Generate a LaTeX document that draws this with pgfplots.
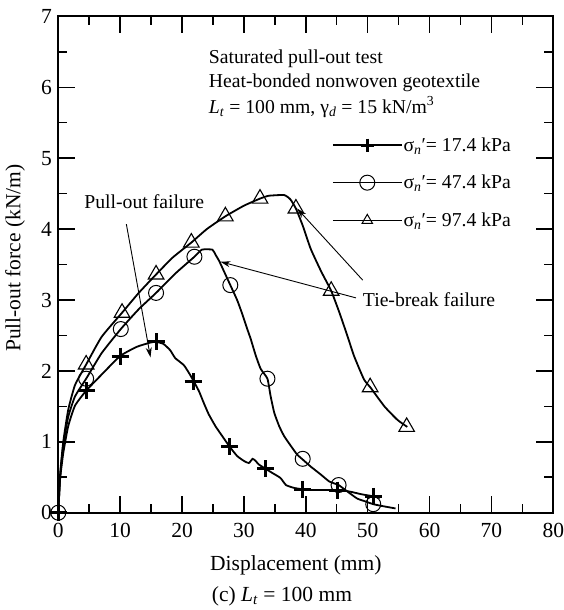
\documentclass[border=0pt]{standalone}
\usepackage{fontspec}
\setmainfont{Liberation Serif}
\usepackage{pgfplots}
\pgfplotsset{compat=1.18}
\usetikzlibrary{arrows.meta}
\newcommand\lblfont{\fontsize{21.5}{25}\selectfont}
\newcommand\annfont{\fontsize{19.7}{23}\selectfont}
\begin{document}
\begin{tikzpicture}
\begin{axis}[
  at={(58.3pt,97.3pt)}, anchor=south west,
  scale only axis, width=495pt, height=496.3pt,
  xmin=0, xmax=80, ymin=0, ymax=7,
  xtick={0,10,...,80}, ytick={0,1,...,7},
  minor xtick={5,15,...,75}, minor ytick={0.5,1.5,...,6.5},
  tick align=inside,
  every tick/.style={line width=1.5pt, black},
  axis line style={line width=1.8pt, black},
  tick label style={font=\lblfont},
  /pgf/number format/assume math mode=true,
  xticklabel style={yshift=-7pt},
  yticklabel style={xshift=-3pt},
  xlabel={Displacement (mm)}, ylabel={Pull-out force (kN/m)},
  label style={font=\lblfont},
  xlabel style={at={(axis description cs:0.48,-0.1054)}, anchor=center},
  ylabel style={at={(axis description cs:-0.0875,0.513)}, anchor=center},
  clip=false,
  legend cell align=left,
  legend style={draw=none, fill=none, at={(axis cs:44.2,5.31)}, anchor=north west,
    font=\annfont, row sep=20.5pt, inner sep=0pt,
    nodes={inner sep=1pt}},
  legend image code/.code={\draw[mark repeat=2, mark phase=2, #1] plot coordinates {(0pt,0pt) (34.5pt,0pt) (69pt,0pt)};},
]
% legend
\addlegendimage{black, line width=1.6pt, mark=+, mark size=6.5pt, mark options={line width=3pt}}
\addlegendentry{σ\textsubscript{\textit{n}}′= 17.4 kPa}
\addlegendimage{black, line width=1.6pt, mark=o, mark size=7.5pt, mark options={line width=1pt, fill=white}}
\addlegendentry{σ\textsubscript{\textit{n}}′= 47.4 kPa}
\addlegendimage{black, line width=1.6pt, mark=triangle, mark size=6pt, mark options={line width=1pt, fill=white}}
\addlegendentry{σ\textsubscript{\textit{n}}′= 97.4 kPa}

% long inward tick marks on all four sides
\pgfplotsinvokeforeach{10,20,30,40,50,60,70}{
  \draw[line width=1.5pt] (axis cs:#1,0) -- ([yshift=17pt]axis cs:#1,0);
  \draw[line width=1.5pt] (axis cs:#1,7) -- ([yshift=-17pt]axis cs:#1,7);
}
\pgfplotsinvokeforeach{5,15,25,35,45,55,65,75}{
  \draw[line width=1.5pt] (axis cs:#1,0) -- ([yshift=9pt]axis cs:#1,0);
  \draw[line width=1.5pt] (axis cs:#1,7) -- ([yshift=-9pt]axis cs:#1,7);
}
\pgfplotsinvokeforeach{1,2,3,4,5,6}{
  \draw[line width=1.5pt] (axis cs:0,#1) -- ([xshift=17pt]axis cs:0,#1);
  \draw[line width=1.5pt] (axis cs:80,#1) -- ([xshift=-17pt]axis cs:80,#1);
}
\pgfplotsinvokeforeach{0.5,1.5,2.5,3.5,4.5,5.5,6.5}{
  \draw[line width=1.5pt] (axis cs:0,#1) -- ([xshift=9pt]axis cs:0,#1);
  \draw[line width=1.5pt] (axis cs:80,#1) -- ([xshift=-9pt]axis cs:80,#1);
}

% 17.4 kPa curve
\addplot[black, line width=1.8pt, smooth, tension=0.3, forget plot] coordinates {
(0,0)(0.27,0.46)(0.8,0.84)(1.6,1.22)(2.7,1.51)(4.5,1.72)(6.8,1.93)(10,2.21)(12.7,2.34)(14.9,2.40)(15.8,2.41)(17.0,2.38)(18.1,2.29)(18.9,2.18)(20.3,2.08)(21.4,1.93)(22.7,1.72)(23.5,1.55)(24.3,1.39)(25.4,1.22)(26.5,1.08)(27.7,0.93)(28.9,0.80)(30.0,0.73)(30.8,0.70)(31.4,0.76)(31.9,0.73)(32.4,0.68)(33.5,0.62)(34.6,0.56)(35.9,0.49)(36.8,0.39)(38.1,0.35)(39.5,0.33)(41,0.32)(43,0.32)(45.1,0.32)(47,0.30)(49,0.26)(51,0.23)(52,0.21)};
\addplot[black, only marks, mark=+, mark size=8.5pt, mark options={line width=3pt}, forget plot] coordinates {
(0,0)(4.5,1.72)(10.0,2.21)(15.8,2.41)(21.8,1.85)(27.7,0.93)(33.5,0.62)(39.5,0.33)(45.1,0.32)(51.0,0.23)};

% 47.4 kPa curve
\addplot[black, line width=1.8pt, smooth, tension=0.3, forget plot] coordinates {
(0,0)(0.3,0.5)(0.8,0.95)(1.6,1.35)(2.7,1.64)(4.5,1.89)(7,2.25)(10.1,2.59)(13,2.87)(15.8,3.10)(19,3.38)(22,3.61)(23.2,3.71)(24.9,3.71)(25.4,3.64)(26,3.55)(26.8,3.40)(27.8,3.21)(28.9,3.0)(29.7,2.81)(30.5,2.6)(31.1,2.45)(31.9,2.22)(32.7,2.03)(33.8,1.89)(34.3,1.65)(34.9,1.41)(35.7,1.22)(36.5,1.08)(37.6,0.94)(38.6,0.82)(39.5,0.75)(40.8,0.65)(42.4,0.54)(43.8,0.44)(45.3,0.39)(46.7,0.30)(48.3,0.20)(49.6,0.16)(50.9,0.12)(52.6,0.09)(54.5,0.06)};
\addplot[black, only marks, mark=o, mark size=7.5pt, mark options={line width=1pt}, forget plot] coordinates {
(0,0)(4.5,1.89)(10.1,2.59)(15.8,3.10)(22.0,3.61)(27.8,3.21)(33.8,1.89)(39.5,0.76)(45.3,0.39)(50.9,0.12)};

% 97.4 kPa curve
\addplot[black, line width=1.8pt, smooth, tension=0.3, forget plot] coordinates {
(0,0)(0.3,0.55)(0.8,1.0)(1.6,1.45)(2.7,1.80)(4.5,2.09)(7,2.48)(10.3,2.82)(13,3.1)(15.8,3.36)(18.5,3.6)(21.5,3.81)(24,4.0)(27,4.18)(30,4.33)(32.6,4.43)(34,4.47)(36.5,4.48)(37.5,4.42)(38.4,4.29)(39.5,4.05)(40.8,3.72)(42.5,3.40)(44.1,3.13)(45.4,2.83)(46.7,2.50)(47.8,2.21)(49.4,1.88)(50.5,1.76)(52.7,1.50)(54.8,1.31)(56.4,1.21)};
\addplot[black, only marks, mark=triangle, mark size=9pt, mark options={line width=1.1pt}, forget plot] coordinates {
(4.5,2.09)(10.3,2.82)(15.8,3.36)(21.5,3.81)(27.0,4.18)(32.6,4.43)(38.4,4.29)(44.1,3.13)(50.4,1.77)(56.3,1.21)};

% annotations
\node[anchor=west, inner sep=0pt, font=\annfont] at (axis cs:24.3,6.40) {Saturated pull-out test};
\node[anchor=west, inner sep=0pt, font=\annfont] at (axis cs:24.3,6.06) {Heat-bonded nonwoven geotextile};
\node[anchor=west, inner sep=0pt, font=\annfont] at (axis cs:24.3,5.72) {\textit{L}\textsubscript{\textit{t}} = 100 mm, γ\textsubscript{\textit{d}} = 15 kN/m\textsuperscript{3}};
\node[inner sep=0pt, font=\annfont] at (axis cs:13.9,4.39) {Pull-out failure};
\node[anchor=west, inner sep=0pt, font=\annfont] at (axis cs:49.2,3.0) {Tie-break failure};
\draw[line width=0.9pt, -{Stealth[length=10pt,width=6pt]}] (axis cs:11.0,4.07) -- (axis cs:14.9,2.19);
\draw[line width=0.9pt, -{Stealth[length=10pt,width=6pt]}] (axis cs:48.1,3.03) -- (axis cs:26.2,3.54);
\draw[line width=0.9pt, -{Stealth[length=10pt,width=6pt]}] (axis cs:49.2,3.28) -- (axis cs:38.6,4.29);
\end{axis}
\node[font=\lblfont] at (282pt,13.3pt) {(c) \textit{L}\textsubscript{\textit{t}} = 100 mm};
\pgfresetboundingbox
\useasboundingbox (0,0) rectangle (563pt,610pt);
\end{tikzpicture}
\end{document}
